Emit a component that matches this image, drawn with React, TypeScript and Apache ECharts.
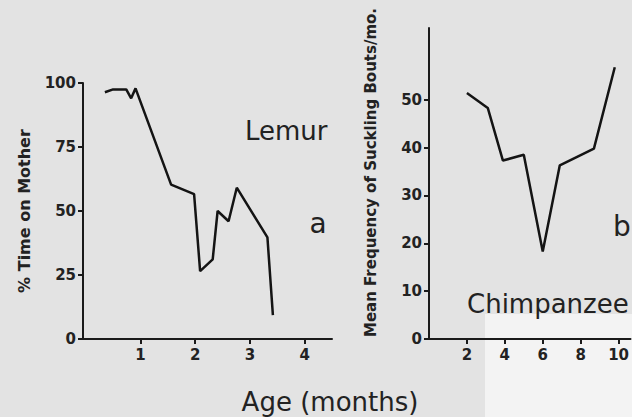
import React, { useEffect, useRef } from "react";
import * as echarts from "echarts";

// Panel a: Lemur, % time on mother vs age (months)
const lemurAge = [0.35, 0.5, 0.74, 0.83, 0.91, 1.56, 1.98, 2.09, 2.32, 2.41, 2.61, 2.76, 3.32, 3.42];
const lemurTime = [96.4, 97.5, 97.5, 94, 97.9, 60.3, 56.6, 26.5, 31.1, 50, 46, 59.1, 39.7, 9.3];
// Panel b: Chimpanzee, mean frequency of suckling bouts/mo. vs age (months)
const chimpAge = [2, 3.1, 3.9, 5, 6, 6.9, 8.7, 9.8];
const chimpBouts = [51.4, 48.3, 37.3, 38.5, 18.3, 36.3, 39.8, 56.8];

const lemurXTicks = [1, 2, 3, 4];
const lemurYTicks = [0, 25, 50, 75, 100];
const chimpXTicks = [2, 4, 6, 8, 10];
const chimpYTicks = [0, 10, 20, 30, 40, 50];

const ink = "#1a1a1a";
const tickFont = { fontFamily: "DejaVu Sans", fontWeight: "bold" as const, fontSize: 15, color: "#222" };
const titleFont = "DejaVu Sans";

function axisBase(ticks: number[], margin: number) {
  return {
    type: "value" as const,
    splitLine: { show: false },
    axisLine: { show: true, onZero: false, lineStyle: { color: ink, width: 2 } },
    axisTick: { show: true, customValues: ticks, length: 5, lineStyle: { color: ink, width: 2 } },
    axisLabel: { show: true, customValues: ticks, margin, ...tickFont },
  };
}

export default function App() {
  const ref = useRef<HTMLDivElement>(null);
  useEffect(() => {
    if (!ref.current) return;
    const chart = echarts.init(ref.current, undefined, { renderer: "svg" });
    chart.setOption({
      animation: false,
      backgroundColor: "#e3e3e3",
      grid: [
        { left: 83, top: 83, width: 249, height: 256 },
        { left: 429, top: 28, width: 203, height: 311 },
      ],
      xAxis: [
        { ...axisBase(lemurXTicks, 8), gridIndex: 0, min: -0.05, max: 4.5 },
        { ...axisBase(chimpXTicks, 8), gridIndex: 1, min: 0, max: 10.63 },
      ],
      yAxis: [
        {
          ...axisBase(lemurYTicks, 7), gridIndex: 0, min: 0, max: 100,
          name: "% Time on Mother", nameLocation: "middle", nameGap: 51,
          nameTextStyle: { fontFamily: "DejaVu Sans", fontWeight: "bold", fontSize: 16, color: "#222" },
        },
        {
          ...axisBase(chimpYTicks, 7), gridIndex: 1, min: 0, max: 65,
          name: "Mean Frequency of Suckling Bouts/mo.", nameLocation: "middle", nameGap: 51,
          nameTextStyle: { fontFamily: "DejaVu Sans", fontWeight: "bold", fontSize: 15, color: "#222", padding: [0, 0, 0, 22] },
        },
      ],
      series: [
        {
          type: "line", xAxisIndex: 0, yAxisIndex: 0, symbol: "none",
          data: lemurAge.map((x, i) => [x, lemurTime[i]]),
          lineStyle: { color: "#141414", width: 2.5 },
        },
        {
          type: "line", xAxisIndex: 1, yAxisIndex: 1, symbol: "none",
          data: chimpAge.map((x, i) => [x, chimpBouts[i]]),
          lineStyle: { color: "#141414", width: 2.5 },
        },
      ],
      graphic: [
        { type: "rect", z: -1, silent: true, shape: { x: 485, y: 314, width: 147, height: 103 }, style: { fill: "#f3f3f3" } },
        { type: "text", style: { text: "Lemur", x: 245, y: 131, align: "left", verticalAlign: "middle", fontFamily: titleFont, fontSize: 26, fill: "#222" } },
        { type: "text", style: { text: "a", x: 318, y: 223, align: "center", verticalAlign: "middle", fontFamily: titleFont, fontSize: 28, fill: "#222" } },
        { type: "text", style: { text: "b", x: 613, y: 226, align: "left", verticalAlign: "middle", fontFamily: titleFont, fontSize: 28, fill: "#222" } },
        { type: "text", style: { text: "Chimpanzee", x: 467, y: 304, align: "left", verticalAlign: "middle", fontFamily: titleFont, fontSize: 26, fill: "#222" } },
        { type: "text", style: { text: "Age (months)", x: 330, y: 402, align: "center", verticalAlign: "middle", fontFamily: titleFont, fontSize: 26, fill: "#222" } },
      ],
    });
    return () => chart.dispose();
  }, []);
  return <div ref={ref} style={{ position: "fixed", left: 0, top: 0, width: 632, height: 417 }} />;
}
